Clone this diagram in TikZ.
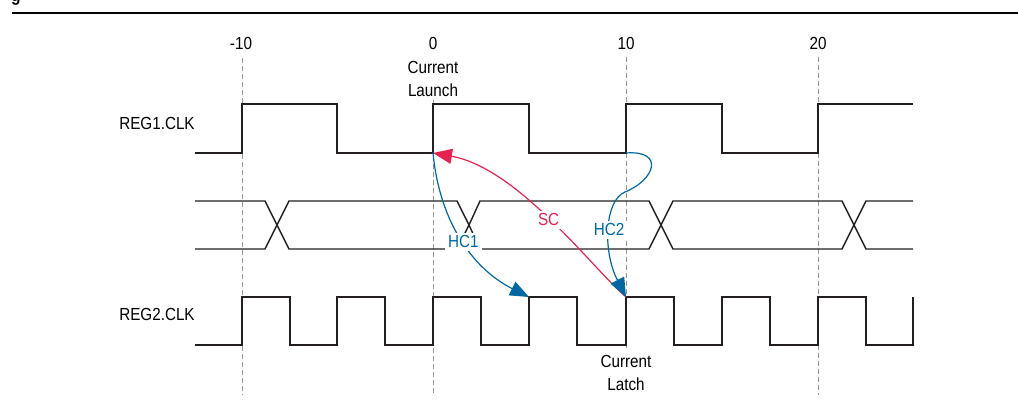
\documentclass[tikz,border=0pt]{standalone}
\usepackage{fontspec}
\setmainfont[FakeStretch=0.87]{Liberation Sans}
\usetikzlibrary{arrows.meta}
\definecolor{scred}{RGB}{230,35,80}
\definecolor{hcblue}{RGB}{0,104,160}
\definecolor{wavegray}{RGB}{35,31,32}
\definecolor{gridgray}{RGB}{150,150,150}
\tikzset{
  wave/.style={draw=wavegray,line width=1.4pt,line join=miter},
  gridline/.style={draw=gridgray,line width=0.9pt,dash pattern=on 5pt off 3pt},
  gridedge/.style={draw=wavegray,line width=2.2pt,dash pattern=on 5pt off 3pt},
  sclink/.style={draw=scred,line width=1.2pt,-{Triangle[length=19pt,width=15pt]}},
  hclink/.style={draw=hcblue,line width=1.2pt,-{Triangle[length=19pt,width=15pt]}},
  lbl/.style={fill=white,inner sep=3pt},
}
\begin{document}
\begin{tikzpicture}[x=1pt,y=-1pt,font=\fontsize{17.5}{23}\selectfont]
\useasboundingbox (0,0) rectangle (1018,403);
% cut title and rule
\node[anchor=base west,inner sep=0,font=\fontsize{18}{20}\selectfont\bfseries] (title) at (11,1.5) {g};
\draw[line width=2pt] (12,13) -- (1018,13);
% time axis
\node (tm10) at (241,43) {-10};
\node (t0) at (433,43) {0};
\node (t10) at (626,43) {10};
\node (t20) at (818,43) {20};
\node[align=center] (launchtxt) at (433,79) {Current\\Launch};
\node[align=center] (latchtxt) at (626,373) {Current\\Latch};
\draw[gridline] (242,58) -- (242,395);
\draw[gridline] (433,100) -- (433,395);
\draw[gridline] (626,57) -- (626,348);
\draw[gridline] (818,57) -- (818,395);
% signal names
\node (reg1) at (157,123) {REG1.CLK};
\node (reg2) at (157,314) {REG2.CLK};
% REG1.CLK
\draw[wave] (195,153) \foreach \r/\f in {242/337,433/529,626/722} {-- (\r,153) -- (\r,104) -- (\f,104) -- (\f,153)} -- (818,153) -- (818,104) -- (913,104);
% data
\draw[wave] (195,201) -- (265,201) -- (289,249) -- (457,249) -- (469,225) -- (480,249) -- (649,249) -- (673,201) -- (842,201) -- (866,249) -- (913,249);
\draw[wave] (195,249) -- (265,249) -- (289,201) -- (457,201) -- (469,225) -- (480,201) -- (649,201) -- (673,249) -- (842,249) -- (866,201) -- (913,201);
% REG2.CLK
\draw[wave] (195,345) \foreach \r/\f in {242/290,337/385,433/481,529/577,626/674,722/770,818/866} {-- (\r,345) -- (\r,297) -- (\f,297) -- (\f,345)} -- (913,345) -- (913,297);
\foreach \x in {242,433,626,818} {
  \draw[gridedge] (\x,104) -- (\x,153);
  \draw[gridedge] (\x,297) -- (\x,345);
}
% launch and latch edges
\coordinate (launch) at (433,153);
\coordinate (hc2start) at (626,153);
\coordinate (hc1end) at (529,297);
\coordinate (latch) at (626,297);
\draw[sclink] (latch) .. controls (592,268) and (518,168) .. node[lbl,text=scred] (sc) {SC} (launch);
\draw[hclink] (launch) .. controls (440,225) and (475,270) .. node[lbl,text=hcblue] (hc1) {HC1} (hc1end);
\draw[hclink] (hc2start) .. controls (665,150) and (655,180) .. (625,192) .. controls (605,200) and (602,250) .. node[lbl,text=hcblue] (hc2) {HC2} (latch);
\end{tikzpicture}
\end{document}
